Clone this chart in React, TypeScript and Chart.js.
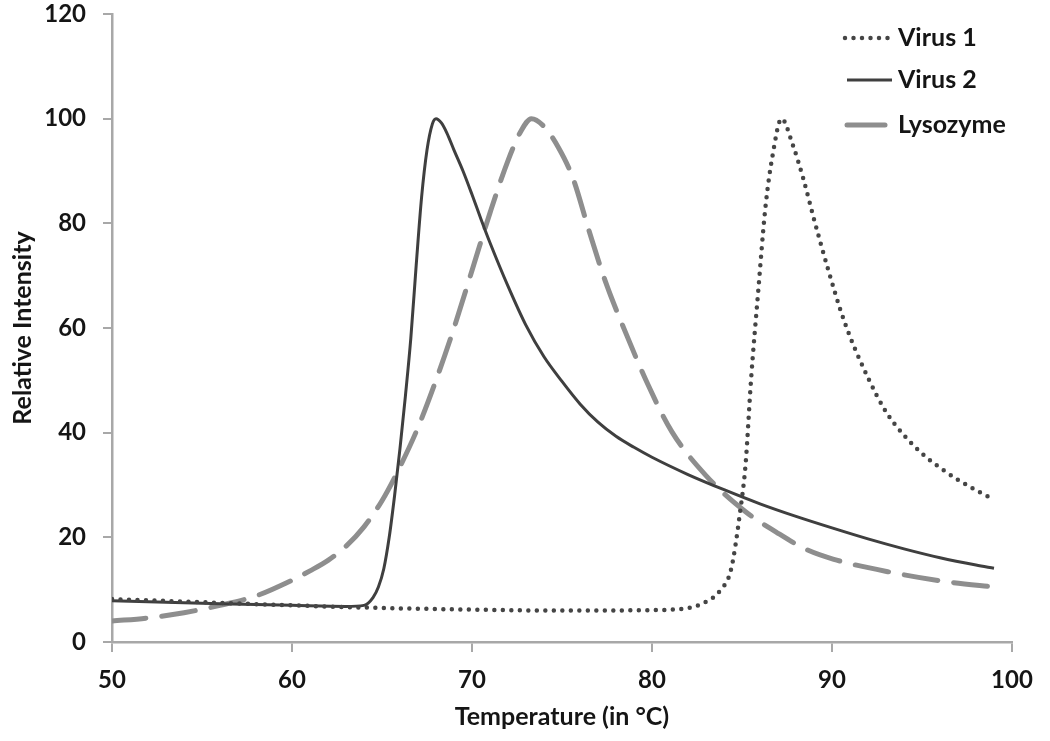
import React, { useEffect, useRef } from "react";
import { Chart, registerables } from "chart.js";

Chart.register(...registerables);

// ---- Data ----
const seriesLabels = ["Virus 1", "Virus 2", "Lysozyme"];

const virus1Temps = [50, 55, 60, 65, 70, 75, 80, 82, 82.7, 83.8, 84.4, 84.9, 85.2, 85.5, 85.9, 86.3, 86.7, 87.2, 87.8, 88.4, 89.0, 89.75, 90.7, 92, 93, 94, 95, 96, 97, 98, 99];
const virus1Values = [8.2, 7.6, 7.0, 6.5, 6.2, 6.0, 6.1, 6.5, 7.2, 9.9, 14, 25, 34, 50, 67, 83, 93, 100, 95.2, 88.6, 80.8, 71.6, 61.1, 50.5, 44, 39.5, 36, 33.3, 31, 29, 27.2];

const virus2Temps = [50, 53, 56, 60, 63, 64, 64.5, 64.8, 65.1, 65.4, 65.7, 66.0, 66.3, 66.6, 66.9, 67.2, 67.5, 67.8, 68.0, 68.3, 68.6, 69, 69.5, 70, 70.5, 71, 72, 73, 74, 75, 76, 77, 78, 79, 80, 82, 84, 86, 88, 90, 92, 94, 96, 98, 99];
const virus2Values = [7.9, 7.6, 7.3, 7.0, 6.8, 7.0, 8.5, 10.5, 14, 20, 28, 37, 47, 58, 72, 85, 94, 99, 100, 99.2, 97.3, 94, 90, 85.5, 80.8, 76.3, 68, 60.5, 54.5, 49.8, 45.5, 42, 39.3, 37.2, 35.3, 32, 29.1, 26.4, 24, 21.8, 19.7, 17.8, 16.1, 14.7, 14.1];

const lysozymeTemps = [50, 52, 54, 56, 58, 60, 61, 62, 63, 64, 65, 66, 67, 68, 69, 70, 71, 72, 72.7, 73.3, 74.0, 74.8, 75.6, 76.5, 77.4, 78.5, 79.8, 81.1, 83.0, 85.2, 86.9, 88.5, 90.1, 93.3, 96.4, 99.1];
const lysozymeValues = [4.0, 4.6, 5.6, 7.0, 8.8, 11.8, 13.6, 15.6, 18.3, 22, 27, 33.5, 41, 50, 60, 71, 82, 92, 97.5, 100, 98.5, 94.5, 88.7, 78.6, 69, 59.4, 49, 40.2, 31.8, 24.9, 21, 17.8, 15.8, 13.3, 11.5, 10.5];

const xTickValues = [50, 60, 70, 80, 90, 100];
const yTickValues = [0, 20, 40, 60, 80, 100, 120];

const xTitle = "Temperature (in °C)";
const yTitle = "Relative Intensity";

const FONT = "Lato, 'Open Sans', 'DejaVu Sans', sans-serif";

function toPoints(xs: number[], ys: number[]) {
  return xs.map((x, i) => ({ x, y: ys[i] }));
}

const insideLegend = {
  id: "insideLegend",
  afterDraw(chart: any) {
    const ctx = chart.ctx;
    const area = chart.chartArea;
    ctx.save();
    const rows = [
      { y: area.top + 24, x0: area.right - 167, x1: area.right - 120 },
      { y: area.top + 66, x0: area.right - 165, x1: area.right - 120 },
      { y: area.top + 111, x0: area.right - 165, x1: area.right - 127 },
    ];
    chart.data.datasets.forEach((ds: any, i: number) => {
      const r = rows[i];
      ctx.beginPath();
      ctx.strokeStyle = ds.borderColor;
      ctx.lineWidth = ds.borderWidth;
      ctx.lineCap = ds.borderCapStyle || "butt";
      ctx.setLineDash(i === 0 ? ds.borderDash : []);
      ctx.moveTo(r.x0, r.y);
      ctx.lineTo(r.x1, r.y);
      ctx.stroke();
      ctx.setLineDash([]);
      ctx.fillStyle = "#151515";
      ctx.font = `bold 25px ${FONT}`;
      ctx.textBaseline = "middle";
      ctx.textAlign = "left";
      ctx.fillText(ds.label, area.right - 114, r.y);
    });
    ctx.restore();
  },
};

export default function App() {
  const canvasRef = useRef<HTMLCanvasElement | null>(null);

  useEffect(() => {
    document.body.style.margin = "0";
    const canvas = canvasRef.current;
    if (!canvas) return;
    const axisColor = "#a8a8a8";
    const chart = new Chart(canvas, {
      type: "line",
      data: {
        datasets: [
          {
            label: seriesLabels[0],
            data: toPoints(virus1Temps, virus1Values),
            borderColor: "#454545",
            borderWidth: 4.5,
            borderDash: [0, 8.5],
            borderCapStyle: "round",
            pointRadius: 0,
            cubicInterpolationMode: "monotone",
            fill: false,
          },
          {
            label: seriesLabels[1],
            data: toPoints(virus2Temps, virus2Values),
            borderColor: "#3f3f3f",
            borderWidth: 3,
            pointRadius: 0,
            cubicInterpolationMode: "monotone",
            fill: false,
          },
          {
            label: seriesLabels[2],
            data: toPoints(lysozymeTemps, lysozymeValues),
            borderColor: "#8e8e8e",
            borderWidth: 5,
            borderDash: [34, 16],
            borderCapStyle: "round",
            pointRadius: 0,
            cubicInterpolationMode: "monotone",
            fill: false,
          },
        ],
      },
      options: {
        responsive: false,
        animation: false,
        events: [],
        layout: { padding: { left: 0, right: 38, top: 14, bottom: 0 } },
        plugins: {
          legend: { display: false },
          tooltip: { enabled: false },
        },
        scales: {
          x: {
            type: "linear",
            min: xTickValues[0],
            max: xTickValues[xTickValues.length - 1],
            afterFit: (scale: any) => {
              scale.height = 99;
              scale.paddingLeft = 0;
              scale.paddingRight = 0;
            },
            afterBuildTicks: (scale: any) => {
              scale.ticks = xTickValues.map((v) => ({ value: v }));
            },
            ticks: {
              color: "#151515",
              font: { family: FONT, size: 24, weight: "bold" },
              padding: 14,
              maxRotation: 0,
            },
            grid: {
              display: true,
              drawOnChartArea: false,
              drawTicks: true,
              tickLength: 10,
              color: axisColor,
              lineWidth: 2,
            },
            border: { display: true, color: axisColor, width: 2.5 },
            title: {
              display: true,
              text: xTitle,
              color: "#151515",
              font: { family: FONT, size: 25, weight: "bold" },
              padding: { top: 0, bottom: 9 },
            },
          },
          y: {
            type: "linear",
            min: yTickValues[0],
            max: yTickValues[yTickValues.length - 1],
            afterFit: (scale: any) => {
              scale.width = 112;
              scale.paddingTop = 0;
              scale.paddingBottom = 0;
            },
            afterBuildTicks: (scale: any) => {
              scale.ticks = yTickValues.map((v) => ({ value: v }));
            },
            ticks: {
              color: "#151515",
              font: { family: FONT, size: 24, weight: "bold" },
              padding: 17,
            },
            grid: {
              display: true,
              drawOnChartArea: false,
              drawTicks: true,
              tickLength: 9,
              color: axisColor,
              lineWidth: 2,
            },
            border: { display: true, color: axisColor, width: 2.5 },
            title: {
              display: true,
              text: yTitle,
              color: "#151515",
              font: { family: FONT, size: 25, weight: "bold" },
              padding: { top: 8, bottom: 0 },
            },
          },
        },
      },
      plugins: [insideLegend],
    });
    return () => chart.destroy();
  }, []);

  return (
    <div style={{ width: 1050, height: 741, background: "#ffffff" }}>
      <canvas ref={canvasRef} width={1050} height={741} style={{ display: "block" }} />
    </div>
  );
}
